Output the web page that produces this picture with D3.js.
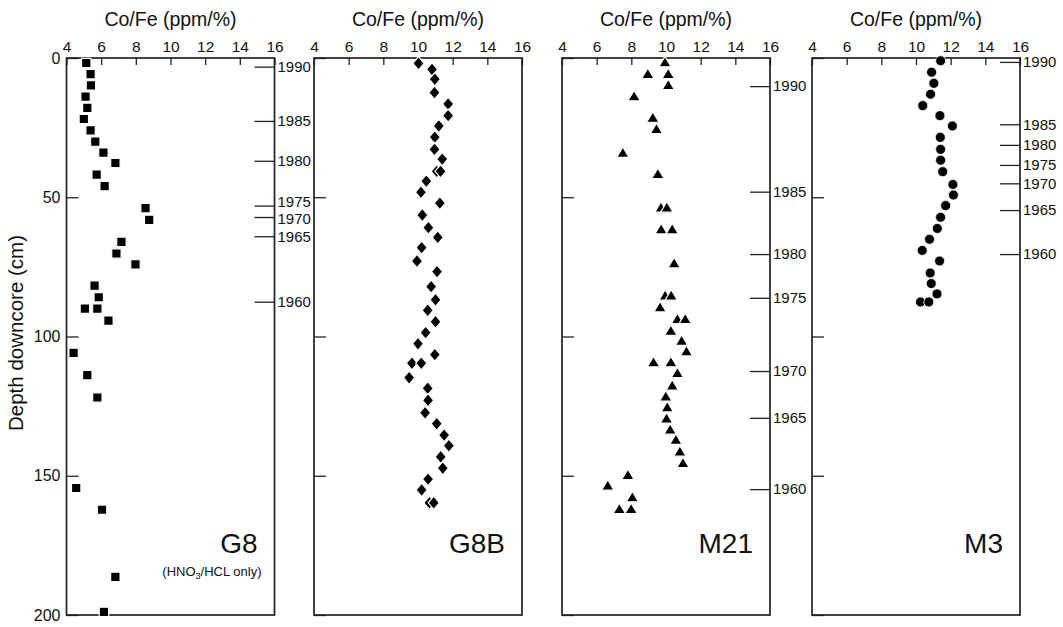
<!DOCTYPE html>
<html>
<head>
<meta charset="utf-8">
<script src="https://cdn.jsdelivr.net/npm/d3@7/dist/d3.min.js"></script>
<style>
  html, body { margin: 0; padding: 0; background: #fff; }
  svg { display: block; }
  text { font-family: "Liberation Sans", Arial, Helvetica, sans-serif; fill: #111; }
  .yr text { font-family: "Liberation Sans Narrow", "Liberation Sans", Arial, sans-serif; }
</style>
</head>
<body>
<svg id="chart" width="1063" height="627"></svg>
<script>
// ---------------- data ----------------
const xTicks = [4, 6, 8, 10, 12, 14, 16];
const depthTicks = [0, 50, 100, 150, 200];
const xTitle = "Co/Fe (ppm/%)";
const yTitle = "Depth downcore (cm)";
const coreNames = ["G8", "G8B", "M21", "M3"];

const g8Depth = [1.8, 5.8, 9.8, 13.9, 17.9, 21.9, 26.0, 30.0, 34.0, 37.7, 41.9, 46.0, 53.9, 58.1, 66.0, 70.2, 74.1, 81.7, 85.9, 90.0, 90.0, 94.3, 105.9, 113.9, 121.9, 154.4, 162.2, 186.3, 198.9];
const g8CoFe  = [5.14, 5.39, 5.41, 5.10, 5.20, 5.00, 5.39, 5.66, 6.13, 6.82, 5.74, 6.20, 8.56, 8.77, 7.17, 6.88, 7.98, 5.62, 5.86, 5.06, 5.78, 6.42, 4.41, 5.20, 5.78, 4.56, 6.05, 6.82, 6.16];

const g8bDepth = [1.9, 4.1, 7.6, 12.4, 16.5, 20.7, 24.4, 28.4, 32.8, 36.3, 40.7, 40.7, 44.2, 48.2, 52.1, 56.4, 60.9, 64.4, 68.1, 72.9, 76.7, 82.1, 86.8, 90.6, 94.7, 98.6, 102.6, 106.5, 109.6, 109.6, 114.8, 118.6, 122.9, 127.4, 131.3, 135.4, 139.2, 143.2, 147.3, 151.2, 155.1, 159.7, 159.7];
const g8bCoFe  = [10.03, 10.81, 10.97, 10.95, 11.74, 11.74, 11.20, 10.97, 10.95, 11.40, 11.08, 11.30, 10.48, 10.17, 11.26, 10.25, 10.60, 11.14, 10.21, 9.94, 11.10, 10.76, 11.01, 10.56, 11.01, 10.44, 10.00, 10.97, 9.65, 10.19, 9.49, 10.56, 10.58, 10.41, 11.08, 11.51, 11.78, 11.31, 11.43, 10.58, 10.21, 10.66, 10.91];

const m21Depth = [1.3, 5.5, 5.5, 9.5, 13.5, 21.2, 25.3, 33.8, 41.4, 53.5, 53.5, 61.3, 61.3, 73.5, 85.1, 85.1, 89.3, 93.5, 93.5, 97.7, 101.3, 105.1, 109.0, 109.0, 112.9, 117.4, 121.3, 125.2, 129.2, 133.2, 136.9, 141.1, 145.2, 149.5, 153.3, 157.5, 161.7, 161.7];
const m21CoFe  = [9.94, 8.95, 10.13, 10.13, 8.16, 9.24, 9.45, 7.51, 9.53, 9.71, 10.05, 9.72, 10.36, 10.47, 9.95, 10.30, 9.66, 10.66, 11.11, 10.28, 10.90, 11.18, 9.28, 10.28, 10.66, 10.36, 9.99, 10.07, 10.03, 10.24, 10.57, 10.80, 10.98, 7.80, 6.64, 8.06, 7.31, 7.99];

const m3Depth = [1.0, 5.1, 9.1, 13.0, 17.1, 20.7, 24.4, 28.5, 32.8, 36.7, 40.8, 45.4, 49.2, 53.0, 57.2, 61.2, 65.1, 69.1, 72.9, 77.2, 81.0, 84.7, 87.6, 87.6];
const m3CoFe  = [11.42, 10.90, 11.03, 10.84, 10.39, 11.38, 12.10, 11.40, 11.42, 11.42, 11.54, 12.13, 12.16, 11.71, 11.42, 11.23, 10.78, 10.36, 11.36, 10.82, 10.88, 11.21, 10.26, 10.74];

const yearLabels = [1990, 1985, 1980, 1975, 1970, 1965, 1960];
const g8YearDepth  = [3.1, 22.6, 36.9, 53.0, 57.1, 64.0, 87.5];
const m21YearDepth = [10.1, 48.0, 70.4, 86.1, 112.4, 129.2, 154.8];
const m3YearDepth  = [1.4, 23.8, 31.2, 38.4, 45.0, 54.6, 70.4];

// ---------------- layout ----------------
const boxLefts = [66.5, 314, 562, 812];
const boxW = 208;
const plotTop = 58, plotBottom = 615;
const g8YearLabelNudge = [0, 0, 0, -3.5, 1.5, 0.5, 0];

const panels = [
  { name: coreNames[0], depth: g8Depth,  val: g8CoFe,  shape: "square",   yearDepth: g8YearDepth, nudge: g8YearLabelNudge, note: true },
  { name: coreNames[1], depth: g8bDepth, val: g8bCoFe, shape: "diamond",  yearDepth: null },
  { name: coreNames[2], depth: m21Depth, val: m21CoFe, shape: "triangle", yearDepth: m21YearDepth },
  { name: coreNames[3], depth: m3Depth,  val: m3CoFe,  shape: "circle",   yearDepth: m3YearDepth }
];

const svg = d3.select("#chart");
const y = d3.scaleLinear().domain([0, 200]).range([plotTop, plotBottom]);

function shapePath(shape) {
  if (shape === "square") { const s = 4.7; return `M${-s},${-s}H${s}V${s}H${-s}Z`; }
  if (shape === "diamond") { const w = 5.6, h = 6.6; return `M0,${-h}L${w},0L0,${h}L${-w},0Z`; }
  if (shape === "triangle") { const w = 6.2, h = 5.2; return `M0,${-h}L${w},${h}L${-w},${h}Z`; }
  return null;
}

panels.forEach((p, i) => {
  const L = boxLefts[i], R = L + boxW;
  const x = d3.scaleLinear().domain([4, 16]).range([L, R]);
  const g = svg.append("g");

  // title
  g.append("text").attr("x", (L + R) / 2).attr("y", 26)
    .attr("text-anchor", "middle").style("font-size", "19.5px").text(xTitle);

  // top axis (inner ticks)
  const ax = g.append("g").attr("transform", `translate(0,${plotTop})`)
    .call(d3.axisTop(x).tickValues(xTicks).tickSizeInner(-7).tickSizeOuter(0).tickPadding(6));
  ax.select(".domain").remove();
  ax.selectAll("line").attr("stroke", "#222").attr("stroke-width", 1.3);
  ax.selectAll("text").style("font-size", "15.5px").attr("font-family", null).attr("fill", "#111");

  // left axis (inner ticks)
  const ay = g.append("g").attr("transform", `translate(${L},0)`)
    .call(d3.axisLeft(y).tickValues(depthTicks).tickSizeInner(-12).tickSizeOuter(0).tickPadding(6));
  ay.select(".domain").remove();
  ay.selectAll("line").attr("stroke", "#222").attr("stroke-width", 1.3);
  ay.selectAll("text").style("font-size", "16px").attr("font-family", null).attr("fill", "#111");
  if (i !== 0) ay.selectAll("text").remove();

  // year axis on right
  if (p.yearDepth) {
    const ayr = g.append("g").attr("class", "yr").attr("transform", `translate(${R},0)`)
      .call(d3.axisRight(y).tickValues(p.yearDepth).tickSizeInner(-20).tickSizeOuter(0).tickPadding(3)
        .tickFormat((d, k) => yearLabels[k]));
    ayr.select(".domain").remove();
    ayr.selectAll("line").attr("stroke", "#222").attr("stroke-width", 1.3);
    ayr.selectAll("text").attr("font-family", null).style("font-size", "15px").attr("fill", "#111")
      .attr("y", (d, k) => p.nudge ? p.nudge[k] : 0);
  }

  // frame
  g.append("rect").attr("x", L).attr("y", plotTop).attr("width", boxW).attr("height", plotBottom - plotTop)
    .attr("fill", "none").attr("stroke", "#222").attr("stroke-width", 1.7);

  // markers
  const pts = p.depth.map((d, k) => ({ d, v: p.val[k] }));
  const mk = g.append("g");
  if (p.shape === "circle") {
    mk.selectAll("circle").data(pts).join("circle")
      .attr("cx", d => x(d.v)).attr("cy", d => y(d.d)).attr("r", 5)
      .attr("fill", "#000").attr("stroke", "#fff").attr("stroke-width", 0.8);
  } else {
    mk.selectAll("path").data(pts).join("path")
      .attr("d", shapePath(p.shape))
      .attr("transform", d => `translate(${x(d.v)},${y(d.d)})`)
      .attr("fill", "#000").attr("stroke", "#fff").attr("stroke-width", 1.2);
  }

  // core label
  g.append("text").attr("x", R - 17).attr("y", 553).attr("text-anchor", "end")
    .style("font-size", "28px").text(p.name);
  if (p.note) {
    const t = g.append("text").attr("x", R - 13).attr("y", 576).attr("text-anchor", "end")
      .style("font-size", "13px");
    t.append("tspan").text("(HNO");
    t.append("tspan").attr("dy", 3).style("font-size", "9px").text("3");
    t.append("tspan").attr("dy", -3).text("/HCL only)");
  }
});

// y-axis title
svg.append("text").attr("transform", `translate(23,333) rotate(-90)`)
  .attr("text-anchor", "middle").style("font-size", "20.5px").text(yTitle);
</script>
</body>
</html>
